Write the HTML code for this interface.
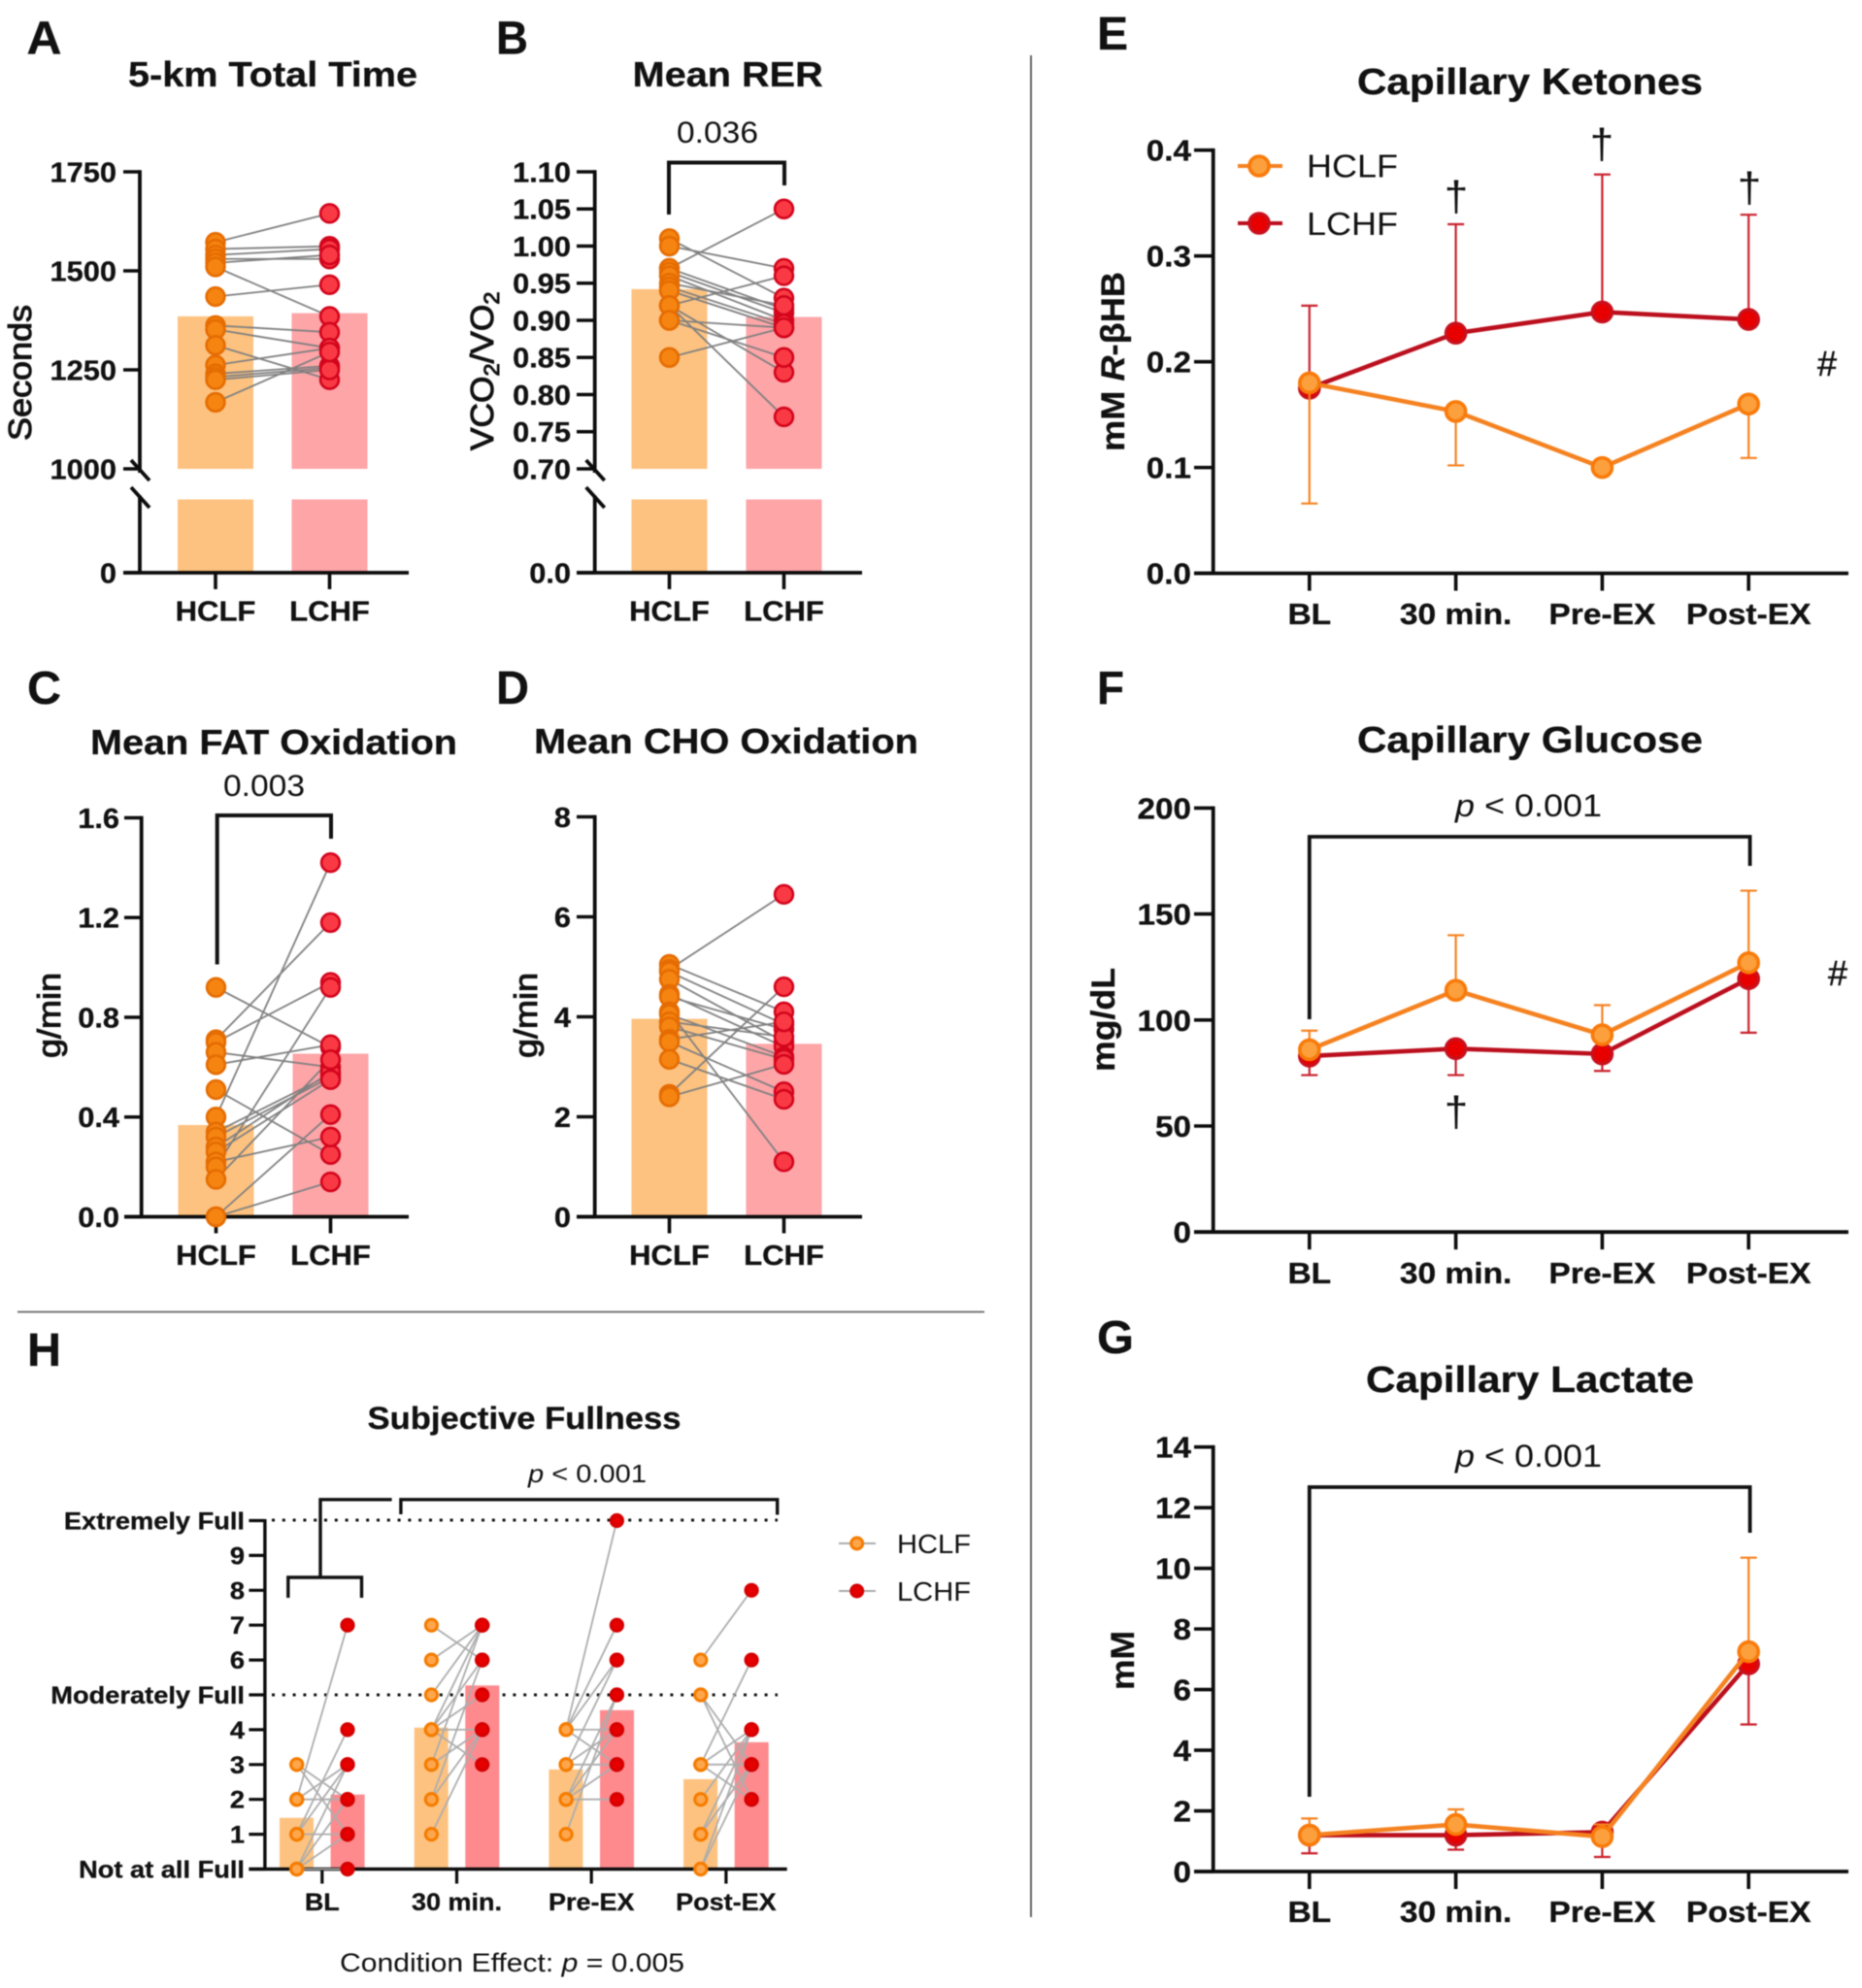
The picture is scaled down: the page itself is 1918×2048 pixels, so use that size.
<!DOCTYPE html>
<html lang="en">
<head>
<meta charset="utf-8">
<title>Diet condition figure panels A-H</title>
<style>
html,body{margin:0;padding:0;background:#fff;}
svg{display:block;filter:blur(0.6px);font-family:"Liberation Sans",Arial,sans-serif;}
text{fill:#111;}
text[font-weight="bold"]{stroke:#111;stroke-width:0.3px;}
</style>
</head>
<body>
<svg id="fig" xmlns="http://www.w3.org/2000/svg" width="1918" height="2048" viewBox="0 0 1918 2048">
<rect x="0" y="0" width="1918" height="2048" fill="#fff"/>
<line x1="1062" y1="57" x2="1062" y2="1975" stroke="#666" stroke-width="2"/>
<line x1="18" y1="1351.5" x2="1014" y2="1351.5" stroke="#777" stroke-width="2"/>

<g id="panelA">
<text x="27.5" y="55.5" font-size="48" font-weight="bold" textLength="36" lengthAdjust="spacingAndGlyphs">A</text>
<text x="132" y="89" font-size="36" font-weight="bold" textLength="298" lengthAdjust="spacingAndGlyphs">5-km Total Time</text>
<text transform="translate(32,454) rotate(-90)" font-size="33" stroke="#111" stroke-width="1" textLength="140" lengthAdjust="spacingAndGlyphs">Seconds</text>
</g>

<g id="panelB">
<text x="511" y="55.5" font-size="48" font-weight="bold" textLength="33" lengthAdjust="spacingAndGlyphs">B</text>
<text x="651.7" y="89" font-size="36" font-weight="bold" textLength="196" lengthAdjust="spacingAndGlyphs">Mean RER</text>
<text transform="translate(508,464) rotate(-90) scale(1.07,1)" font-size="33" stroke="#111" stroke-width="1">VCO<tspan font-size="22" dy="6">2</tspan><tspan dy="-6">/VO</tspan><tspan font-size="22" dy="6">2</tspan></text>
<polyline points="689,221 689,167.5 808,167.5 808,191" fill="none" stroke="#111" stroke-width="4"/>
<text x="697" y="147" font-size="31.5" textLength="84" lengthAdjust="spacingAndGlyphs">0.036</text>
</g>

<g id="panelC">
<text x="28" y="725" font-size="48" font-weight="bold" textLength="35" lengthAdjust="spacingAndGlyphs">C</text>
<text x="93" y="777" font-size="36" font-weight="bold" textLength="378" lengthAdjust="spacingAndGlyphs">Mean FAT Oxidation</text>
<text transform="translate(62,1090) rotate(-90)" font-size="33" stroke="#111" stroke-width="1" textLength="88" lengthAdjust="spacingAndGlyphs">g/min</text>
<polyline points="223.7,993.5 223.7,840 341,840 341,864" fill="none" stroke="#111" stroke-width="4"/>
<text x="230" y="820" font-size="31.5" textLength="84" lengthAdjust="spacingAndGlyphs">0.003</text>
</g>

<g id="panelD">
<text x="511" y="725" font-size="48" font-weight="bold" textLength="34" lengthAdjust="spacingAndGlyphs">D</text>
<text x="550" y="776" font-size="36" font-weight="bold" textLength="396" lengthAdjust="spacingAndGlyphs">Mean CHO Oxidation</text>
<text transform="translate(553,1090) rotate(-90)" font-size="33" stroke="#111" stroke-width="1" textLength="88" lengthAdjust="spacingAndGlyphs">g/min</text>
</g>

<g id="panelE">
<text x="1130" y="51" font-size="48" font-weight="bold" textLength="32" lengthAdjust="spacingAndGlyphs">E</text>
<text x="1398" y="97" font-size="38" font-weight="bold" textLength="356" lengthAdjust="spacingAndGlyphs">Capillary Ketones</text>
<text transform="translate(1158,465) rotate(-90)" font-size="34" font-weight="bold" textLength="185" lengthAdjust="spacingAndGlyphs">mM <tspan font-style="italic">R</tspan>-βHB</text>
<line x1="1275" y1="171" x2="1321" y2="171" stroke="#f58220" stroke-width="4"/>
<circle cx="1297" cy="171" r="10" fill="#fba03c" stroke="#f97a0a" stroke-width="3.6"/>
<text x="1346" y="182.5" font-size="33" textLength="94" lengthAdjust="spacingAndGlyphs">HCLF</text>
<line x1="1275" y1="230" x2="1321" y2="230" stroke="#bb0f1d" stroke-width="4"/>
<circle cx="1297" cy="230" r="10" fill="#e80000" stroke="#c9101c" stroke-width="3.6"/>
<text x="1346" y="242" font-size="33" textLength="94" lengthAdjust="spacingAndGlyphs">LCHF</text>
<text x="1500" y="217" font-size="44" text-anchor="middle">†</text>
<text x="1650" y="163" font-size="44" text-anchor="middle">†</text>
<text x="1802" y="208" font-size="44" text-anchor="middle">†</text>
<text x="1882" y="387" font-size="36" text-anchor="middle" stroke="#111" stroke-width="0.5">#</text>
</g>

<g id="panelF">
<text x="1130" y="725" font-size="48" font-weight="bold" textLength="28" lengthAdjust="spacingAndGlyphs">F</text>
<text x="1398" y="775" font-size="38" font-weight="bold" textLength="356" lengthAdjust="spacingAndGlyphs">Capillary Glucose</text>
<text transform="translate(1148,1104) rotate(-90)" font-size="34" font-weight="bold" textLength="107" lengthAdjust="spacingAndGlyphs">mg/dL</text>
<polyline points="1348.8,1050 1348.8,862 1802.6,862 1802.6,892" fill="none" stroke="#111" stroke-width="3.8"/>
<text x="1499" y="841" font-size="32" textLength="151" lengthAdjust="spacingAndGlyphs"><tspan font-style="italic">p</tspan> &lt; 0.001</text>
<text x="1500" y="1160" font-size="44" text-anchor="middle">†</text>
<text x="1893" y="1015" font-size="36" text-anchor="middle" stroke="#111" stroke-width="0.5">#</text>
</g>

<g id="panelG">
<text x="1130" y="1394" font-size="48" font-weight="bold" textLength="38" lengthAdjust="spacingAndGlyphs">G</text>
<text x="1407" y="1434" font-size="38" font-weight="bold" textLength="338" lengthAdjust="spacingAndGlyphs">Capillary Lactate</text>
<text transform="translate(1168,1741) rotate(-90)" font-size="34" font-weight="bold" textLength="61" lengthAdjust="spacingAndGlyphs">mM</text>
<polyline points="1348.8,1851 1348.8,1532 1802.6,1532 1802.6,1579" fill="none" stroke="#111" stroke-width="3.8"/>
<text x="1499" y="1511" font-size="32" textLength="151" lengthAdjust="spacingAndGlyphs"><tspan font-style="italic">p</tspan> &lt; 0.001</text>
</g>

<g id="panelH">
<text x="28" y="1407" font-size="48" font-weight="bold" textLength="35" lengthAdjust="spacingAndGlyphs">H</text>
<text x="378.5" y="1472" font-size="32" font-weight="bold" textLength="323" lengthAdjust="spacingAndGlyphs">Subjective Fullness</text>
<line x1="280" y1="1566" x2="801" y2="1566" stroke="#111" stroke-width="3" stroke-dasharray="3 7.8"/>
<line x1="280" y1="1746" x2="801" y2="1746" stroke="#111" stroke-width="3" stroke-dasharray="3 7.8"/>
<polyline points="296.8,1646 296.8,1625 372.5,1625 372.5,1646" fill="none" stroke="#111" stroke-width="3.4"/>
<polyline points="330,1625 330,1544.8 403.6,1544.8" fill="none" stroke="#111" stroke-width="3.4"/>
<polyline points="412.9,1560 412.9,1544.8 800.7,1544.8 800.7,1560.5" fill="none" stroke="#111" stroke-width="3.4"/>
<text x="544" y="1527" font-size="26" textLength="122" lengthAdjust="spacingAndGlyphs"><tspan font-style="italic">p</tspan> &lt; 0.001</text>
<text x="350" y="2031" font-size="27" textLength="355" lengthAdjust="spacingAndGlyphs">Condition Effect: <tspan font-style="italic">p</tspan> = 0.005</text>
<line x1="864" y1="1590" x2="902" y2="1590" stroke="#aaa" stroke-width="2"/>
<circle cx="882.7" cy="1590" r="6" fill="#ffa64d" stroke="#f57c00" stroke-width="3"/>
<text x="924" y="1600" font-size="28" textLength="76" lengthAdjust="spacingAndGlyphs">HCLF</text>
<line x1="864" y1="1639" x2="902" y2="1639" stroke="#aaa" stroke-width="2"/>
<circle cx="882.7" cy="1639" r="6" fill="#e60000" stroke="#d60000" stroke-width="3"/>
<text x="924" y="1649" font-size="28" textLength="76" lengthAdjust="spacingAndGlyphs">LCHF</text>
</g>
</svg>

<script>
// ---- Chart data ----
const pairCategories = ['HCLF', 'LCHF'];
const timeCategories = ['BL', '30 min.', 'Pre-EX', 'Post-EX'];

// A: 5-km total time (s)
const timeTickLabels = ['0', '1000', '1250', '1500', '1750'];
const timeMeans = [1385, 1393];
const timeHclf = [1572, 1555, 1540, 1530, 1520, 1510, 1435, 1362, 1352, 1312, 1262, 1240, 1232, 1225, 1168];
const timeLchf = [1645, 1562, 1555, 1530, 1540, 1385, 1465, 1345, 1305, 1225, 1305, 1260, 1255, 1250, 1295];

// B: mean RER
const rerTickLabels = ['0.0', '0.70', '0.75', '0.80', '0.85', '0.90', '0.95', '1.00', '1.05', '1.10'];
const rerMeans = [0.942, 0.9045];
const rerHclf = [1.01, 1.00, 0.97, 0.97, 0.965, 0.96, 0.95, 0.945, 0.94, 0.92, 0.92, 0.92, 0.90, 0.90, 0.85];
const rerLchf = [0.93, 0.97, 1.05, 0.915, 0.91, 0.90, 0.92, 0.895, 0.89, 0.96, 0.83, 0.77, 0.89, 0.85, 0.89];

// C: mean fat oxidation (g/min)
const fatTickLabels = ['0.0', '0.4', '0.8', '1.2', '1.6'];
const fatMeans = [0.368, 0.654];
const fatHclf = [0.92, 0.71, 0.70, 0.66, 0.61, 0.51, 0.40, 0.34, 0.32, 0.28, 0.26, 0.22, 0.20, 0.15, 0, 0];
const fatLchf = [0.68, 1.18, 0.94, 0.60, 0.69, 0.25, 1.42, 0.57, 0.56, 0.58, 0.55, 0.32, 0.92, 0.63, 0.14, 0.41];

// D: mean CHO oxidation (g/min)
const choTickLabels = ['0', '2', '4', '6', '8'];
const choMeans = [3.96, 3.46];
const choHclf = [5.05, 4.95, 4.9, 4.75, 4.45, 4.4, 4.1, 4.05, 3.9, 3.8, 3.55, 3.5, 3.15, 2.45, 2.4];
const choLchf = [4.1, 6.45, 3.85, 3.5, 3.4, 3.75, 1.1, 3.2, 3.6, 3.15, 3.9, 2.5, 2.35, 4.6, 3.05];

// E: capillary ketones
const ketoneTickLabels = ['0.0', '0.1', '0.2', '0.3', '0.4'];
const ketoneHclf = [0.18, 0.153, 0.10, 0.16];
const ketoneHclfSd = [0.114, 0.051, 0, 0.051];
const ketoneLchf = [0.175, 0.227, 0.247, 0.24];
const ketoneLchfSd = [0.078, 0.103, 0.13, 0.099];

// F: capillary glucose
const glucoseTickLabels = ['0', '50', '100', '150', '200'];
const glucoseHclf = [86, 114, 93, 127];
const glucoseHclfSd = [9, 26, 14, 34];
const glucoseLchf = [83, 86.5, 84, 119.5];
const glucoseLchfSd = [9, 12.5, 8, 25.5];

// G: capillary lactate
const lactateTickLabels = ['0', '2', '4', '6', '8', '10', '12', '14'];
const lactateHclf = [1.2, 1.55, 1.15, 7.25];
const lactateHclfSd = [0.55, 0.5, 0.4, 3.1];
const lactateLchf = [1.2, 1.2, 1.3, 6.85];
const lactateLchfSd = [0.6, 0.48, 0.82, 2.0];

// H: subjective fullness
const fullnessTickValues = [0, 1, 2, 3, 4, 5, 6, 7, 8, 9, 10];
const fullnessTickLabels = ['Not at all Full', '1', '2', '3', '4', 'Moderately Full', '6', '7', '8', '9', 'Extremely Full'];
const fullnessMeansHclf = [1.47, 4.06, 2.86, 2.58];
const fullnessMeansLchf = [2.14, 5.27, 4.56, 3.64];
const fullnessBlHclf = [3, 3, 2, 2, 2, 1, 1, 1, 0, 0, 0, 0];
const fullnessBlLchf = [1, 2, 7, 2, 3, 4, 3, 1, 2, 1, 0, 3];
const fullness30Hclf = [7, 6, 5, 4, 4, 4, 4, 4, 3, 3, 2, 2, 1];
const fullness30Lchf = [6, 7, 7, 7, 6, 4, 3, 5, 4, 7, 6, 4, 4];
const fullnessPreHclf = [4, 4, 4, 4, 4, 3, 3, 3, 2, 2, 2, 2, 1];
const fullnessPreLchf = [10, 7, 6, 4, 3, 4, 3, 6, 5, 4, 2, 3, 5];
const fullnessPostHclf = [6, 5, 5, 3, 3, 3, 3, 2, 1, 1, 1, 0, 0];
const fullnessPostLchf = [8, 2, 3, 6, 4, 3, 2, 4, 4, 3, 3, 4, 3];

// ---- Helpers ----
const SVGNS = 'http://www.w3.org/2000/svg';
function mk(parent, tag, attrs) {
  const n = document.createElementNS(SVGNS, tag);
  for (const k in attrs) n.setAttribute(k, attrs[k]);
  parent.appendChild(n);
  return n;
}
function linearScale(d0, d1, p0, p1) {
  return function (v) { return p0 + (v - d0) * (p1 - p0) / (d1 - d0); };
}
function brokenScale(breakVal, topVal, pxBreak, pxTop, pxZero) {
  const upper = linearScale(breakVal, topVal, pxBreak, pxTop);
  return function (v) { return v >= breakVal ? upper(v) : pxZero; };
}
function bandScale(first, step) {
  return function (i) { return first + i * step; };
}
function drawAxisLine(g, x1, y1, x2, y2, w) {
  const l = mk(g, 'line', { x1: x1, y1: y1, x2: x2, y2: y2, stroke: '#0c0c0c', 'stroke-width': w });
  
  
}
function drawYTicks(g, y, values, labels, tickX0, tickX1, labelRight, size, sx, w) {
  values.forEach(function (v, i) {
    const t = mk(g, 'line', { x1: tickX0, x2: tickX1, y1: y(v), y2: y(v), stroke: '#0c0c0c', 'stroke-width': w });
    
    
    const lb = mk(g, 'text', {
      transform: 'translate(' + labelRight + ',' + (y(v) + size * 0.36) + ') scale(' + sx + ',1)',
      'font-size': size, 'font-weight': 'bold', 'text-anchor': 'end'
    });
    lb.textContent = labels[i];
    
    
  });
}
function drawXTicks(g, x, labels, axisY, tickLen, baseline, size, sx, w) {
  labels.forEach(function (c, i) {
    const t = mk(g, 'line', { x1: x(i), x2: x(i), y1: axisY, y2: axisY + tickLen, stroke: '#0c0c0c', 'stroke-width': w });
    
    
    const lb = mk(g, 'text', {
      transform: 'translate(' + x(i) + ',' + baseline + ') scale(' + sx + ',1)',
      'font-size': size, 'font-weight': 'bold', 'text-anchor': 'middle'
    });
    lb.textContent = c;
    
    
  });
}
function drawBar(g, cx, width, top, bottom, color) {
  const b = mk(g, 'rect', { x: cx - width / 2, y: top, width: width, height: bottom - top, fill: color });
  
  
}
function drawPairs(g, x0, x1, y, left, right, lineColor, lineW, r, sw, fillL, strokeL, fillR, strokeR) {
  left.forEach(function (v, i) {
    const l = mk(g, 'line', { x1: x0, y1: y(v), x2: x1, y2: y(right[i]), stroke: lineColor, 'stroke-width': lineW });
    
    
  });
  left.forEach(function (v) {
    const c = mk(g, 'circle', { cx: x0, cy: y(v), r: r, fill: fillL, stroke: strokeL, 'stroke-width': sw });
    
    
  });
  right.forEach(function (v) {
    const c = mk(g, 'circle', { cx: x1, cy: y(v), r: r, fill: fillR, stroke: strokeR, 'stroke-width': sw });
    
    
  });
}
function drawBreakMarks(g, x, yTop, yBottom) {
  [yTop, yBottom].forEach(function (yy) {
    const s = mk(g, 'line', { x1: x - 9.5, y1: yy - 10.5, x2: x + 9.5, y2: yy + 10.5, stroke: '#0c0c0c', 'stroke-width': 3.8 });
    
    
  });
}
function barPanel(id, axisX, tickLeft, labelRight, y, labels, means, h, l, pos, axisY, axisRight, broken, lowerTop, breakPx, baselineY) {
  const g = document.getElementById(id);
  const x = bandScale(pos[0], pos[1]);
  const colors = ['#fdc27f', '#fea5a8'];
  means.forEach(function (m, i) {
    if (broken) {
      drawBar(g, x(i), 78, y(m), breakPx, colors[i]);
      drawBar(g, x(i), 78, lowerTop, axisY, colors[i]);
    } else {
      drawBar(g, x(i), 78, y(m), axisY, colors[i]);
    }
  });
  if (broken) {
    const topY = y(Number(labels[labels.length - 1]));
    drawAxisLine(g, axisX, topY - 1.8, axisX, breakPx + 4, 3.8);
    drawAxisLine(g, axisX, lowerTop - 4, axisX, axisY, 3.8);
    drawBreakMarks(g, axisX + 0.5, breakPx + 1.5, lowerTop - 2);
  } else {
    const topY = y(Number(labels[labels.length - 1]));
    drawAxisLine(g, axisX, topY - 1.8, axisX, axisY, 3.8);
  }
  drawAxisLine(g, tickLeft, axisY, axisRight, axisY, 3.8);
  drawYTicks(g, y, labels.map(Number), labels, tickLeft, axisX, labelRight, 28.5, 1.08, 3.6);
  drawXTicks(g, x, pairCategories, axisY, 17, baselineY, 28.5, 1.09, 3.6);
  drawPairs(g, x(0), x(1), y, h, l, '#808080', 1.8, 9.4, 2.6, '#f58410', '#e56c02', '#f93a44', '#d3041c');
}
function drawSeries(g, x, y, values, sds, dir, lineColor, errColor, fill, stroke, seriesName) {
  values.forEach(function (v, i) {
    if (sds[i] <= 0) return;
    const end = y(v + dir * sds[i]);
    const e = mk(g, 'line', { x1: x(i), x2: x(i), y1: y(v), y2: end, stroke: errColor, 'stroke-width': 2.2 });
    
    
    const cap = mk(g, 'line', { x1: x(i) - 8.5, x2: x(i) + 8.5, y1: end, y2: end, stroke: errColor, 'stroke-width': 2.2 });
    
    
  });
  const pts = values.map(function (v, i) { return x(i) + ',' + y(v); }).join(' ');
  const pl = mk(g, 'polyline', { points: pts, fill: 'none', stroke: lineColor, 'stroke-width': 4.6, 'stroke-linejoin': 'round' });
  
  
  values.forEach(function (v, i) {
    const c = mk(g, 'circle', { cx: x(i), cy: y(v), r: 10, fill: fill, stroke: stroke, 'stroke-width': 3.6 });
    
    
  });
}
function linePanel(id, y, labels, axisY, hv, hs, hdir, lv, ls, ldir, baselineY) {
  const g = document.getElementById(id);
  const x = bandScale(1348.8, 150.8);
  const topY = y(Number(labels[labels.length - 1]));
  drawAxisLine(g, 1249.7, topY - 1.8, 1249.7, axisY, 3.8);
  drawAxisLine(g, 1230, axisY, 1904, axisY, 3.8);
  drawYTicks(g, y, labels.map(Number), labels, 1230, 1249.7, 1227, 30.5, 1.09, 3.6);
  drawXTicks(g, x, timeCategories, axisY, 18, baselineY, 30.5, 1.1, 3.6);
  drawSeries(g, x, y, lv, ls, ldir, '#bb0f1d', '#c9202c', '#e80000', '#c9101c', 'lchf');
  drawSeries(g, x, y, hv, hs, hdir, '#f58220', '#f58220', '#fba03c', '#f97a0a', 'hclf');
}

// ---- Draw panels A-D ----
barPanel('panelA', 144, 127, 120, brokenScale(1000, 1750, 483, 177, 590), timeTickLabels, timeMeans, timeHclf, timeLchf, [222, 117.5], 590, 421, true, 514.5, 483, 639.5);
barPanel('panelB', 612.7, 594, 588, brokenScale(0.7, 1.1, 483, 177, 590), rerTickLabels, rerMeans, rerHclf, rerLchf, [689.5, 118], 590, 888, true, 514.5, 483, 639.5);
barPanel('panelC', 145.7, 128, 123, linearScale(0, 1.6, 1253.5, 842.5), fatTickLabels, fatMeans, fatHclf, fatLchf, [222.5, 118], 1253.5, 421, false, 0, 0, 1303);
barPanel('panelD', 612.7, 594, 588, linearScale(0, 8, 1253.5, 841.5), choTickLabels, choMeans, choHclf, choLchf, [689.5, 118], 1253.5, 888, false, 0, 0, 1303);

// ---- Draw panels E-G ----
linePanel('panelE', linearScale(0, 0.4, 590.6, 154.7), ketoneTickLabels, 590.6, ketoneHclf, ketoneHclfSd, -1, ketoneLchf, ketoneLchfSd, 1, 643);
linePanel('panelF', linearScale(0, 200, 1269.2, 832.4), glucoseTickLabels, 1269.2, glucoseHclf, glucoseHclfSd, 1, glucoseLchf, glucoseLchfSd, -1, 1322);
linePanel('panelG', linearScale(0, 14, 1928, 1490.7), lactateTickLabels, 1928, lactateHclf, lactateHclfSd, 1, lactateLchf, lactateLchfSd, -1, 1980);

// ---- Draw panel H ----
(function () {
  const g = document.getElementById('panelH');
  const y = linearScale(0, 10, 1925.5, 1566.5);
  const x = bandScale(331.8, 138.7);
  const pairsH = [fullnessBlHclf, fullness30Hclf, fullnessPreHclf, fullnessPostHclf];
  const pairsL = [fullnessBlLchf, fullness30Lchf, fullnessPreLchf, fullnessPostLchf];
  timeCategories.forEach(function (c, i) {
    drawBar(g, x(i) - 26.3, 35, y(fullnessMeansHclf[i]), 1925, '#fdc27f');
    drawBar(g, x(i) + 26.3, 35, y(fullnessMeansLchf[i]), 1925, '#fe8a8e');
  });
  drawAxisLine(g, 272.9, 1565, 272.9, 1925.5, 3.4);
  drawAxisLine(g, 256.4, 1925.5, 810.7, 1925.5, 3.4);
  drawYTicks(g, y, fullnessTickValues, fullnessTickLabels, 256.4, 272.9, 252, 25, 1.09, 3.2);
  drawXTicks(g, x, timeCategories, 1925.5, 15, 1968, 25, 1.08, 3.2);
  timeCategories.forEach(function (c, i) {
    drawPairs(g, x(i) - 26.1, x(i) + 26.2, y, pairsH[i], pairsL[i], '#adadad', 1.8, 6.1, 3, '#ffa64d', '#f57c00', '#e60000', '#d60000');
  });
})();
</script>
</body>
</html>
